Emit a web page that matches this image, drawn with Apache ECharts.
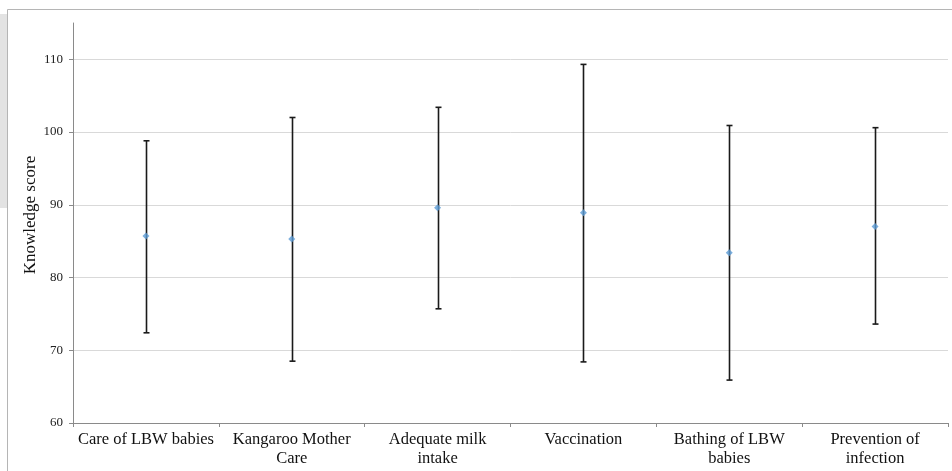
<!DOCTYPE html>
<html>
<head>
<meta charset="utf-8">
<script src="https://cdn.jsdelivr.net/npm/echarts@6/dist/echarts.min.js"></script>
<style>
html,body{margin:0;padding:0;background:#fff;}
#chart{width:952px;height:471px;}
</style>
</head>
<body>
<div id="chart"></div>
<script>
var categories = ['Care of LBW babies', 'Kangaroo Mother\nCare', 'Adequate milk\nintake', 'Vaccination', 'Bathing of LBW\nbabies', 'Prevention of\ninfection'];
var meanValues = [85.7, 85.3, 89.6, 88.9, 83.4, 87.0];
var lowValues  = [72.4, 68.5, 75.7, 68.4, 65.9, 73.6];
var highValues = [98.8, 102.0, 103.4, 109.3, 100.9, 100.6];
var yTicks = [60, 70, 80, 90, 100, 110];

var errData = categories.map(function (c, i) { return [i, lowValues[i], highValues[i]]; });
var meanData = categories.map(function (c, i) { return [i, meanValues[i]]; });

var chart = echarts.init(document.getElementById('chart'), null, {renderer: 'canvas'});
var font = '"Liberation Serif", "Times New Roman", serif';
var axisGray = '#8a8a8a';

chart.setOption({
  animation: false,
  backgroundColor: '#fff',
  graphic: [
    {type: 'rect', shape: {x: 0, y: 14, width: 7, height: 194}, style: {fill: '#e3e3e3'}, silent: true},
    {type: 'line', shape: {x1: 7.5, y1: 9.5, x2: 952, y2: 9.5}, style: {stroke: '#b5b5b5', lineWidth: 1}},
    {type: 'line', shape: {x1: 7.5, y1: 9.5, x2: 7.5, y2: 471}, style: {stroke: '#b5b5b5', lineWidth: 1}},
    {type: 'text', x: 31, y: 215, rotation: Math.PI / 2, style: {text: 'Knowledge score', font: '17px ' + font, fill: '#111', align: 'center', verticalAlign: 'middle'}}
  ],
  grid: [
    {left: 73, right: 4, top: 23, bottom: 48},
    {left: 73, right: 4, top: 59.3, bottom: 48}
  ],
  xAxis: [
    {gridIndex: 0, type: 'category', data: categories, show: false},
    {
      gridIndex: 1, type: 'category', data: categories, boundaryGap: true,
      axisLine: {show: true, lineStyle: {color: axisGray, width: 1}},
      axisTick: {show: true, length: 4, lineStyle: {color: axisGray}},
      axisLabel: {fontFamily: font, fontSize: 16.5, color: '#111', margin: 7, lineHeight: 19, interval: 0},
      splitLine: {show: false}
    }
  ],
  yAxis: [
    {
      gridIndex: 0, type: 'value', min: 60, max: 115,
      axisLine: {show: true, lineStyle: {color: axisGray, width: 1}},
      axisTick: {show: false}, axisLabel: {show: false}, splitLine: {show: false}
    },
    {
      gridIndex: 1, type: 'value', min: yTicks[0], max: yTicks[yTicks.length - 1], interval: 10,
      axisLine: {show: true, lineStyle: {color: axisGray, width: 1}},
      axisTick: {show: true, length: 4, lineStyle: {color: axisGray}},
      axisLabel: {fontFamily: font, fontSize: 13, color: '#222', margin: 10},
      splitLine: {show: true, lineStyle: {color: '#d9d9d9', width: 1}}
    }
  ],
  series: [
    {
      type: 'custom', xAxisIndex: 1, yAxisIndex: 1, data: errData, z: 3,
      renderItem: function (params, api) {
        var lo = api.coord([api.value(0), api.value(1)]);
        var hi = api.coord([api.value(0), api.value(2)]);
        var x = Math.round(lo[0]) + 0.5;
        var cap = 3;
        var st = {stroke: '#1a1a1a', lineWidth: 1.6};
        return {
          type: 'group',
          children: [
            {type: 'line', shape: {x1: x, y1: hi[1], x2: x, y2: lo[1]}, style: st},
            {type: 'line', shape: {x1: x - cap, y1: hi[1], x2: x + cap, y2: hi[1]}, style: st},
            {type: 'line', shape: {x1: x - cap, y1: lo[1], x2: x + cap, y2: lo[1]}, style: st}
          ]
        };
      }
    },
    {
      type: 'scatter', xAxisIndex: 1, yAxisIndex: 1, data: meanData, z: 4,
      symbol: 'diamond', symbolSize: 7,
      itemStyle: {color: '#5b9bd5'}
    }
  ]
});
</script>
</body>
</html>
